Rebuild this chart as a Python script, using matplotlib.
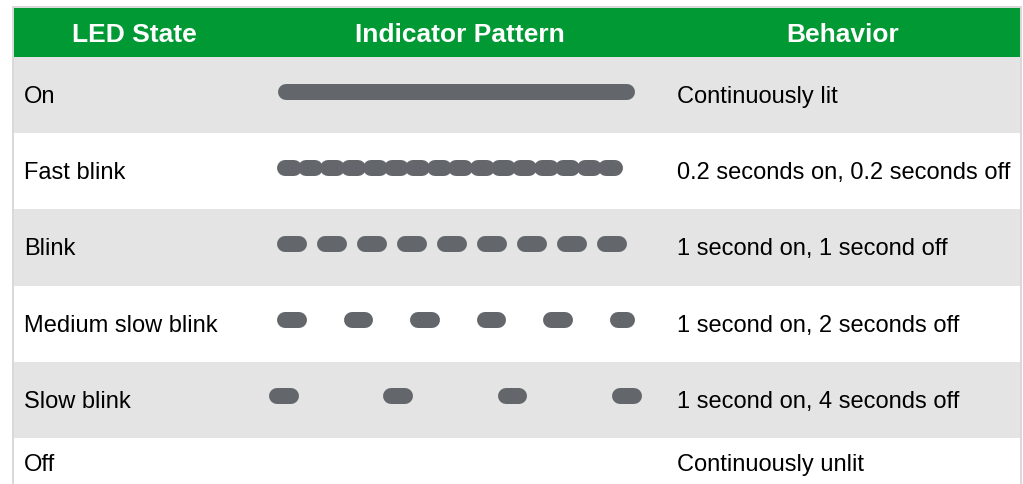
import matplotlib.pyplot as plt
from matplotlib.patches import Rectangle

plt.rcParams['font.family'] = ['Liberation Sans', 'DejaVu Sans']

# table content
headers = ["LED State", "Indicator Pattern", "Behavior"]
states = ["On", "Fast blink", "Blink", "Medium slow blink", "Slow blink", "Off"]
behaviors = ["Continuously lit",
             "0.2 seconds on, 0.2 seconds off",
             "1 second on, 1 second off",
             "1 second on, 2 seconds off",
             "1 second on, 4 seconds off",
             "Continuously unlit"]

# indicator pattern per row (pattern axis units ~ pixels)
pulse_count = [1, 17, 9, 6, 4, 0]
pulse_period = [0, 21.4, 40, 66.5, 114.4, 0]
pulse_width = [357, 25, 29.5, 29.5, 29.5, 0]
pulse_start = [278, 277, 277, 277, 269, 0]
pattern_end = [635, 635, 635, 635, 642, 0]

GREEN = '#009933'
GRAY_ROW = '#E4E4E4'
BORDER = '#D9D9D9'
LED = '#63666A'

W, H = 1023, 485
fig = plt.figure(figsize=(W / 100, H / 100), dpi=100)
ax = fig.add_axes([0, 0, 1, 1])
ax.set_xlim(0, W)
ax.set_ylim(H, 0)
ax.axis('off')

left, right, top = 14, 1020, 9
head_h = 49
row_h = 76.2
last_h = 50
col_x = [left, 255, 665, right]
thick = 16  # pulse thickness in px
thick_pt = thick * 72 / 100

# outer border
ax.add_patch(Rectangle((left - 2, top - 2), right - left + 4, H + 10, color=BORDER, lw=0))

# header
ax.add_patch(Rectangle((left, top), right - left, head_h, color=GREEN, lw=0))
for i, h in enumerate(headers):
    cx = (col_x[i] + col_x[i + 1]) / 2
    ax.text(cx, top + head_h / 2 + 1, h, color='white', fontsize=19, fontweight='bold',
            ha='center', va='center')

# rows
y0 = top + head_h
for r, state in enumerate(states):
    ry = y0 + r * row_h
    rh = last_h if r == len(states) - 1 else row_h
    bg = GRAY_ROW if r % 2 == 0 else 'white'
    ax.add_patch(Rectangle((left, ry), right - left, rh + 40 * (r == len(states) - 1),
                           color=bg, lw=0))
    cy = ry + rh / 2
    ax.text(24, cy + 1, state, fontsize=17, ha='left', va='center', color='black')
    ax.text(677, cy + 1, behaviors[r], fontsize=17, ha='left', va='center', color='black')

    py = cy - 3.5
    for k in range(pulse_count[r]):
        x = pulse_start[r] + k * pulse_period[r]
        w = max(min(pulse_width[r], pattern_end[r] - x), thick)
        x1 = x + thick / 2
        x2 = x + w - thick / 2
        ax.plot([x1, x2 + 0.01], [py, py], color=LED, lw=thick_pt,
                solid_capstyle='round')

fig.savefig('out.png', dpi=100)
